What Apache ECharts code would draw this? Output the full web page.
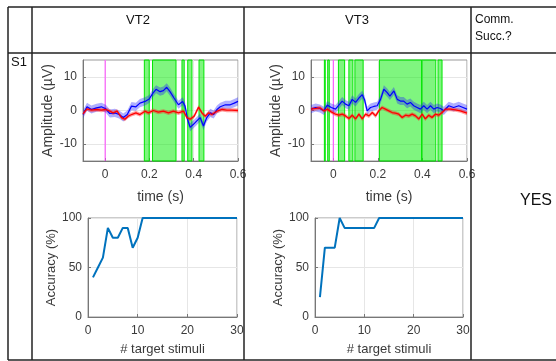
<!DOCTYPE html>
<html>
<head>
<meta charset="utf-8">
<script src="https://cdn.jsdelivr.net/npm/echarts@6/dist/echarts.min.js"></script>
<style>
  html, body { margin: 0; padding: 0; background: #fff; }
  #chart { width: 556px; height: 361px; }
</style>
</head>
<body>
<div id="chart"></div>
<script>
// VT2 ERP (target = blue, non-target = red)
const vt2BlueT = [-0.1, -0.082, -0.062, -0.039, -0.017, 0.003, 0.021, 0.044, 0.063, 0.082, 0.1, 0.119, 0.139, 0.157, 0.18, 0.199, 0.215, 0.23, 0.248, 0.263, 0.278, 0.293, 0.311, 0.331, 0.35, 0.361, 0.372, 0.384, 0.399, 0.414, 0.429, 0.444, 0.459, 0.475, 0.49, 0.505, 0.52, 0.543, 0.565, 0.583, 0.6];
const vt2BlueV = [-1.2, 1.1, 0.3, 0.8, 1.1, 0.5, -0.9, -0.7, -1.2, -2.1, -1.2, 1.3, 1.1, 2.2, 2.7, 3.4, 5.1, 6.3, 5.6, 5.9, 6.9, 5.6, 3.7, 1.7, 2.7, 1.3, -2.6, -5.0, -4.1, -3.1, -2.1, -4.6, -2.1, -0.7, -1.2, 0.3, 1.1, 1.7, 1.7, 2.2, 2.7];
const vt2RedT = [-0.1, -0.082, -0.062, -0.039, -0.017, 0.003, 0.021, 0.036, 0.054, 0.074, 0.089, 0.104, 0.119, 0.139, 0.157, 0.18, 0.195, 0.218, 0.24, 0.263, 0.286, 0.308, 0.331, 0.354, 0.369, 0.384, 0.402, 0.422, 0.437, 0.452, 0.467, 0.482, 0.505, 0.528, 0.55, 0.573, 0.6];
const vt2RedV = [-1.0, 0.5, 0.1, 0.3, 0.1, 0.3, -0.2, -0.7, -0.2, -2.1, -2.6, -1.7, -1.2, -0.7, -1.2, -0.2, -0.7, 0.0, -0.5, -0.2, -0.7, -0.2, -0.7, -0.2, -2.1, -2.6, -1.7, 1.0, -0.7, -1.7, -0.7, -1.2, -0.2, 0.3, 0.1, 0.1, 0.0];
const vt2Sig = [[0.177, 0.199], [0.214, 0.320], [0.347, 0.357], [0.373, 0.392], [0.424, 0.446]];

// VT3 ERP
const vt3BlueT = [-0.1, -0.079, -0.06, -0.042, -0.027, -0.009, 0.01, 0.025, 0.04, 0.055, 0.07, 0.085, 0.1, 0.115, 0.13, 0.14, 0.152, 0.167, 0.182, 0.197, 0.212, 0.227, 0.242, 0.254, 0.272, 0.287, 0.301, 0.316, 0.331, 0.346, 0.361, 0.376, 0.391, 0.406, 0.421, 0.436, 0.451, 0.466, 0.481, 0.496, 0.518, 0.54, 0.563, 0.582, 0.6];
const vt3BlueV = [0.4, 0.9, 0.6, -0.1, 1.6, 0.9, 0.4, 1.6, 2.8, 1.9, 1.4, 3.3, 2.4, 3.7, 4.7, 3.3, -0.1, 0.9, 1.2, 1.4, 3.3, 6.3, 5.3, 4.3, 5.8, 3.3, 2.8, 2.8, 1.9, 2.4, 1.4, 0.9, 0.4, 1.4, 0.4, 1.4, 0.4, 0.9, 0.6, -0.1, 1.4, 0.9, 1.4, 0.9, 0.4];
const vt3RedT = [-0.1, -0.079, -0.06, -0.042, -0.027, -0.009, 0.01, 0.025, 0.04, 0.055, 0.07, 0.085, 0.1, 0.115, 0.13, 0.145, 0.16, 0.175, 0.19, 0.204, 0.219, 0.234, 0.249, 0.264, 0.279, 0.294, 0.309, 0.324, 0.339, 0.354, 0.369, 0.384, 0.399, 0.413, 0.428, 0.443, 0.458, 0.473, 0.488, 0.503, 0.525, 0.548, 0.57, 0.6];
const vt3RedV = [0.4, 0.6, 0.8, -0.1, 0.4, -0.4, -1.1, -1.4, -1.1, -1.6, -2.4, -1.4, -2.5, -1.1, -2.5, -1.1, -1.6, -0.6, -1.6, -0.1, 0.9, 0.4, -0.1, -0.6, -0.8, -1.1, -2.1, -1.4, -1.6, -1.1, -1.6, -2.5, -1.1, -2.5, -1.4, -2.1, -1.1, -1.4, -0.6, 0.4, 0.4, 0.2, -0.1, -0.8];
const vt3Sig = [[-0.040, -0.036], [-0.025, -0.018], [0.023, 0.051], [0.070, 0.088], [0.097, 0.134], [0.207, 0.397], [0.397, 0.460], [0.470, 0.488]];

const onsetLine = [[0, -15], [0, 15]];
const blueHalf = 1.2;
const redHalf = 0.6;

// accuracy vs number of target stimuli
const stimuli = [1, 2, 3, 4, 5, 6, 7, 8, 9, 10, 11, 12, 13, 14, 15, 16, 17, 18, 19, 20, 21, 22, 23, 24, 25, 26, 27, 28, 29, 30];
const vt2Acc = [40, 50, 60, 90, 80, 80, 90, 90, 70, 80, 100, 100, 100, 100, 100, 100, 100, 100, 100, 100, 100, 100, 100, 100, 100, 100, 100, 100, 100, 100];
const vt3Acc = [20, 70, 70, 70, 100, 90, 90, 90, 90, 90, 90, 90, 100, 100, 100, 100, 100, 100, 100, 100, 100, 100, 100, 100, 100, 100, 100, 100, 100, 100];

const timeTicks = [0, 0.2, 0.4, 0.6];
const ampTicks = [-10, 0, 10];

const chart = echarts.init(document.getElementById("chart"));

const zip = (a, b) => a.map((v, i) => [v, b[i]]);
const labelColor = "#3a3a3a";

function band(idx, times, vals, hw, color) {
  return {
    type: "custom", xAxisIndex: idx, yAxisIndex: idx, silent: true, z: 3,
    data: [[times[0], vals[0]]],
    renderItem: (params, api) => {
      const pts = [];
      for (let i = 0; i < times.length; i++) pts.push(api.coord([times[i], vals[i] + hw]));
      for (let i = times.length - 1; i >= 0; i--) pts.push(api.coord([times[i], vals[i] - hw]));
      return { type: "polygon", shape: { points: pts }, style: { fill: color } };
    },
  };
}

function line(idx, data, color, width, z) {
  return {
    type: "line", xAxisIndex: idx, yAxisIndex: idx, data, symbol: "none",
    lineStyle: { color, width }, z, silent: true, animation: false,
  };
}

function sigSeries(idx, sig) {
  return {
    type: "line", xAxisIndex: idx, yAxisIndex: idx, data: [], z: 1, silent: true,
    markArea: {
      silent: true,
      itemStyle: { color: "rgba(0,235,0,0.5)", borderColor: "#00e600", borderWidth: 1 },
      data: sig.map(([a, b]) => [{ xAxis: a, yAxis: -15 }, { xAxis: b, yAxis: 15 }]),
    },
  };
}

function xAxisCfg(idx, opts) {
  return Object.assign({
    type: "value", gridIndex: idx,
    nameLocation: "middle",
    nameTextStyle: { fontSize: 14, color: labelColor },
    axisLine: { onZero: false, lineStyle: { color: "#777" } },
    axisTick: { inside: true, length: 3, lineStyle: { color: "#777" } },
    axisLabel: { color: labelColor, fontSize: 12, margin: 8 },
    splitLine: { lineStyle: { color: "#e6e6e6" } },
  }, opts);
}

function yAxisCfg(idx, opts) {
  return Object.assign({
    type: "value", gridIndex: idx,
    nameLocation: "middle",
    nameTextStyle: { fontSize: 14, color: labelColor },
    axisLine: { show: true, onZero: false, lineStyle: { color: "#777" } },
    axisTick: { show: true, inside: true, length: 3, lineStyle: { color: "#777" } },
    axisLabel: { color: labelColor, fontSize: 12, margin: 6 },
    splitLine: { lineStyle: { color: "#e6e6e6" } },
  }, opts);
}

const timeX = (idx) => xAxisCfg(idx, {
  min: -0.1, max: 0.6, name: "time (s)", nameGap: 29,
  axisLabel: { color: labelColor, fontSize: 12, margin: 8, customValues: timeTicks },
  axisTick: { inside: true, length: 3, lineStyle: { color: "#777" }, customValues: timeTicks },
});
const ampY = (idx) => yAxisCfg(idx, {
  min: -15, max: 15, name: "Amplitude (µV)", nameGap: 28,
  axisLabel: { color: labelColor, fontSize: 12, margin: 6, customValues: ampTicks },
  axisTick: { show: true, inside: true, length: 3, lineStyle: { color: "#777" }, customValues: ampTicks },
});
const stimX = (idx) => xAxisCfg(idx, {
  min: 0, max: 30, interval: 10, name: "# target stimuli", nameGap: 26,
  nameTextStyle: { fontSize: 13, color: labelColor },
});
const accY = (idx) => yAxisCfg(idx, {
  min: 0, max: 100, interval: 50, name: "Accuracy (%)", nameGap: 28,
  nameTextStyle: { fontSize: 13, color: labelColor },
});

const gridBox = { show: true, borderColor: "#999", borderWidth: 1, backgroundColor: "#fff" };

const tableLine = (x1, y1, x2, y2) => ({
  type: "line", shape: { x1, y1, x2, y2 }, style: { stroke: "#222", lineWidth: 1.5 }, z: 100,
});
const txt = (x, y, text, size, align) => ({
  type: "text", x, y, z: 100,
  style: { text, fontSize: size, fill: "#111", align: align || "center", verticalAlign: "middle", fontFamily: "Liberation Sans" },
});

const option = {
  animation: false,
  textStyle: { fontFamily: "Liberation Sans" },
  grid: [
    Object.assign({ left: 83, top: 60, width: 155, height: 101 }, gridBox),
    Object.assign({ left: 311, top: 60, width: 156, height: 101 }, gridBox),
    Object.assign({ left: 88, top: 218, width: 149, height: 99 }, gridBox),
    Object.assign({ left: 315, top: 218, width: 148, height: 99 }, gridBox),
  ],
  xAxis: [timeX(0), timeX(1), stimX(2), stimX(3)],
  yAxis: [ampY(0), ampY(1), accY(2), accY(3)],
  series: [
    sigSeries(0, vt2Sig),
    line(0, onsetLine, "#ff40ff", 1, 2),
    band(0, vt2BlueT, vt2BlueV, blueHalf, "rgba(30,30,255,0.36)"),
    band(0, vt2RedT, vt2RedV, redHalf, "rgba(255,40,40,0.45)"),
    line(0, zip(vt2BlueT, vt2BlueV), "#0000ff", 1.2, 4),
    line(0, zip(vt2RedT, vt2RedV), "#ff0000", 1.3, 5),
    sigSeries(1, vt3Sig),
    line(1, onsetLine, "#ff40ff", 1, 2),
    band(1, vt3BlueT, vt3BlueV, blueHalf, "rgba(30,30,255,0.36)"),
    band(1, vt3RedT, vt3RedV, redHalf, "rgba(255,40,40,0.45)"),
    line(1, zip(vt3BlueT, vt3BlueV), "#0000ff", 1.2, 4),
    line(1, zip(vt3RedT, vt3RedV), "#ff0000", 1.3, 5),
    line(2, zip(stimuli, vt2Acc), "#0072bd", 2, 3),
    line(3, zip(stimuli, vt3Acc), "#0072bd", 2, 3),
  ],
  graphic: [
    tableLine(8, 7, 556, 7),
    tableLine(8, 53, 556, 53),
    tableLine(8, 360, 556, 360),
    tableLine(8, 7, 8, 360),
    tableLine(32, 7, 32, 360),
    tableLine(244, 7, 244, 360),
    tableLine(471, 7, 471, 360),
    txt(138, 20, "VT2", 13),
    txt(357, 20, "VT3", 13),
    txt(475, 20, "Comm.", 12, "left"),
    txt(475, 37, "Succ.?", 12, "left"),
    txt(11, 62, "S1", 13, "left"),
    txt(536, 201, "YES", 16),
  ],
};

chart.setOption(option);
</script>
</body>
</html>
